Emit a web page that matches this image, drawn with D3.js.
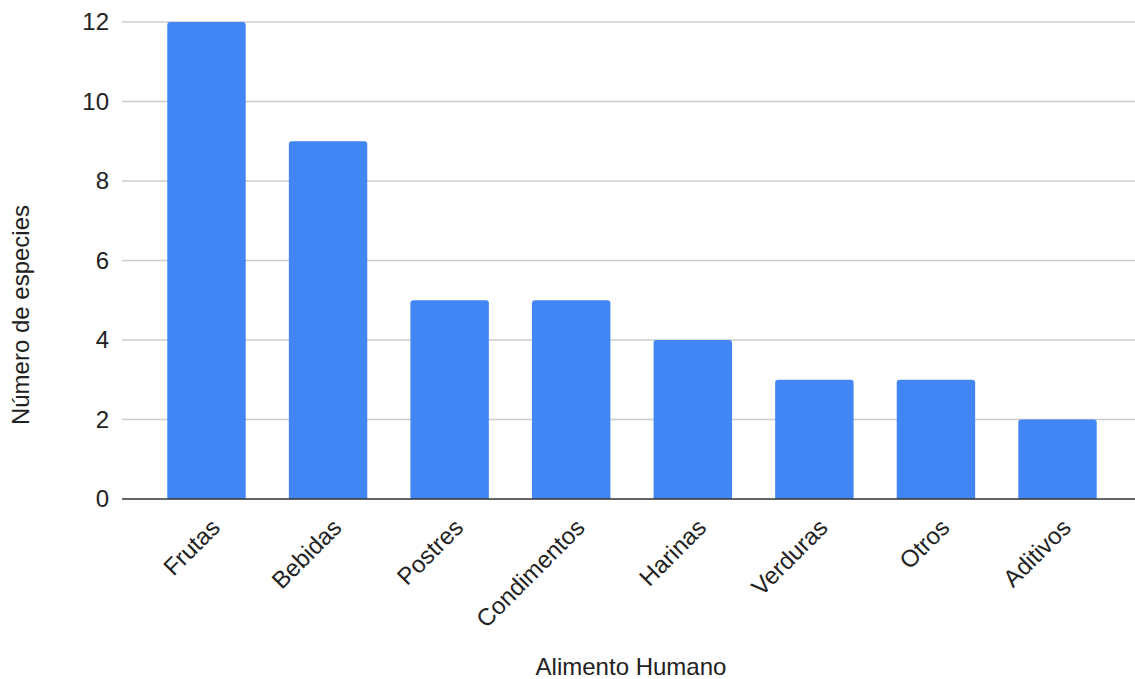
<!DOCTYPE html>
<html>
<head>
<meta charset="utf-8">
<script src="https://cdn.jsdelivr.net/npm/d3@7"></script>
<style>
  html, body { margin: 0; padding: 0; background: #fff; }
  svg { display: block; font-family: "Liberation Sans", Arial, sans-serif; }
</style>
</head>
<body>
<svg id="chart" width="1135" height="679"></svg>
<script>
// Species count per category of human food
const categories = ["Frutas", "Bebidas", "Postres", "Condimentos", "Harinas", "Verduras", "Otros", "Aditivos"];
const values = [12, 9, 5, 5, 4, 3, 3, 2];
const yTicks = [0, 2, 4, 6, 8, 10, 12];
const xTitle = "Alimento Humano";
const yTitle = "Número de especies";

const svg = d3.select("#chart");
const plot = { left: 122, right: 1135, top: 22, bottom: 499 };
const fontSize = 24;

const x = d3.scaleBand()
  .domain(categories)
  .range([145.7, 1118.3])
  .paddingInner(0.355)
  .paddingOuter(0.1775);

const y = d3.scaleLinear()
  .domain([0, 12])
  .range([plot.bottom, plot.top]);

// Horizontal gridlines
svg.append("g")
  .selectAll("line")
  .data(yTicks.filter(d => d !== 0))
  .join("line")
  .attr("x1", plot.left)
  .attr("x2", plot.right)
  .attr("y1", d => y(d))
  .attr("y2", d => y(d))
  .attr("stroke", "#cccccc")
  .attr("stroke-width", 1.3);

// Y tick labels
const yAxis = d3.axisLeft(y).tickValues(yTicks).tickSize(0).tickPadding(13);
const yg = svg.append("g")
  .attr("transform", `translate(${plot.left},0)`)
  .call(yAxis);
yg.select(".domain").remove();
yg.selectAll("text")
  .attr("font-size", fontSize)
  .attr("fill", "#222")
  .attr("font-family", "Liberation Sans, Arial, sans-serif");

// Bars with slightly rounded tops
const r = 3;
svg.append("g")
  .selectAll("path")
  .data(categories.map((c, i) => ({ c, v: values[i] })))
  .join("path")
  .attr("fill", "#4285f4")
  .attr("d", d => {
    const x0 = x(d.c), w = x.bandwidth();
    const yt = y(d.v), yb = y(0);
    return `M${x0},${yb}V${yt + r}Q${x0},${yt} ${x0 + r},${yt}H${x0 + w - r}Q${x0 + w},${yt} ${x0 + w},${yt + r}V${yb}Z`;
  });

// Baseline
svg.append("line")
  .attr("x1", plot.left)
  .attr("x2", plot.right)
  .attr("y1", y(0))
  .attr("y2", y(0))
  .attr("stroke", "#333")
  .attr("stroke-width", 1.5);

// X category labels, rotated
const xAxis = d3.axisBottom(x).tickSize(0).tickPadding(0);
const xg = svg.append("g")
  .attr("transform", `translate(0,${plot.bottom})`)
  .call(xAxis);
xg.select(".domain").remove();
xg.selectAll("text")
  .attr("font-size", fontSize)
  .attr("fill", "#222")
  .attr("font-family", "Liberation Sans, Arial, sans-serif")
  .attr("text-anchor", "end")
  .attr("dy", null)
  .attr("y", 0)
  .attr("transform", "translate(15,30) rotate(-45)");

// Axis titles
svg.append("text")
  .attr("x", 631)
  .attr("y", 675)
  .attr("text-anchor", "middle")
  .attr("font-size", fontSize)
  .attr("fill", "#222")
  .text(xTitle);

svg.append("text")
  .attr("transform", `translate(29,315) rotate(-90)`)
  .attr("text-anchor", "middle")
  .attr("font-size", fontSize)
  .attr("fill", "#222")
  .text(yTitle);
</script>
</body>
</html>
